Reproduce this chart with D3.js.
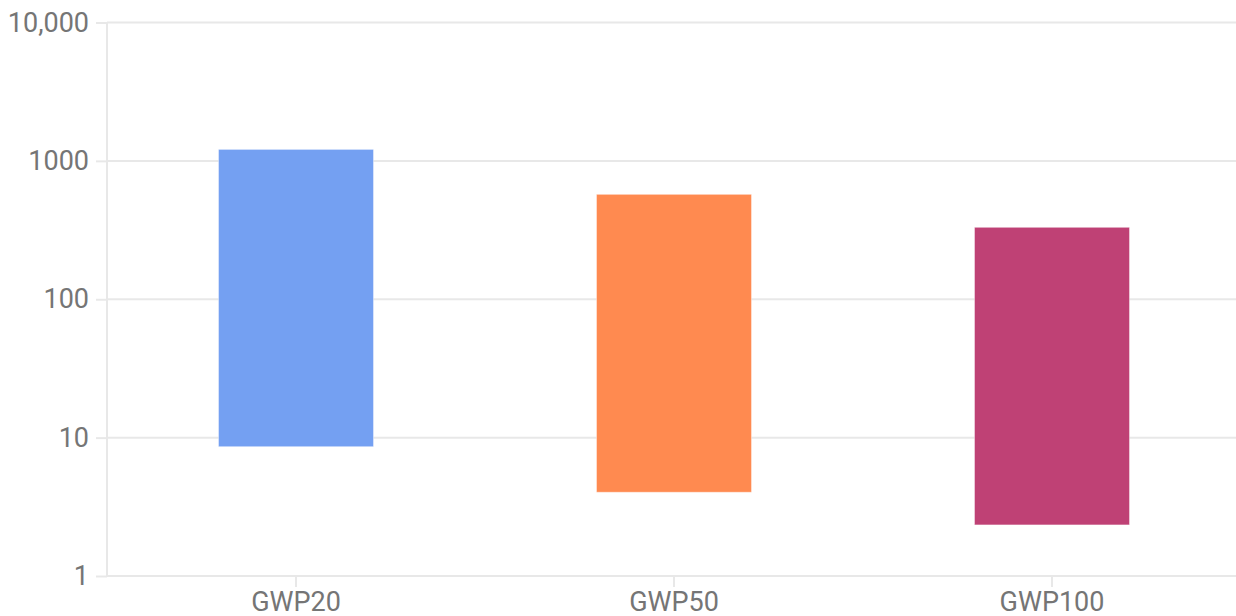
<!DOCTYPE html>
<html>
<head>
<meta charset="utf-8">
<script src="https://cdn.jsdelivr.net/npm/d3@7"></script>
<style>
  body { margin: 0; background: #fff; }
  text { font-family: Roboto, sans-serif; fill: #757575; }
</style>
</head>
<body>
<div id="chart"></div>
<script>
// data
var categories = ["GWP20", "GWP50", "GWP100"];
var lowValues = [8.6, 4.03, 2.34];
var highValues = [1210, 573, 331];
var barColors = ["#74a0f2", "#ff8a50", "#bf4175"];
var yTicks = [1, 10, 100, 1000, 10000];

var width = 1236, height = 616;
var margin = {top: 22.5, right: 0, bottom: 40, left: 107};

var svg = d3.select("#chart")
  .append("svg")
  .attr("width", width)
  .attr("height", height);

var x = d3.scaleBand()
  .domain(categories)
  .range([margin.left, 1241])
  .paddingInner(0.59)
  .paddingOuter(0.295);

var y = d3.scaleLog()
  .domain([1, 10000])
  .range([576, margin.top]);

// gridlines + y labels
var yAxis = svg.append("g")
  .attr("transform", "translate(" + margin.left + ",0)")
  .call(d3.axisLeft(y)
    .tickValues(yTicks)
    .tickSize(11)
    .tickPadding(7)
    .tickFormat(function(d) { return d >= 10000 ? d3.format(",")(d) : d; }));
yAxis.select(".domain").remove();
yAxis.selectAll("line").attr("stroke", "#e8e8e8").attr("stroke-width", 2);
yAxis.selectAll("text").style("font-size", "27px").style("fill", "#757575");

svg.append("g")
  .selectAll("line")
  .data(yTicks)
  .enter()
  .append("line")
  .attr("x1", margin.left)
  .attr("x2", width)
  .attr("y1", function(d) { return y(d); })
  .attr("y2", function(d) { return y(d); })
  .attr("stroke", "#e8e8e8")
  .attr("stroke-width", 2);

// y axis line
svg.append("line")
  .attr("x1", margin.left).attr("x2", margin.left)
  .attr("y1", y(10000)).attr("y2", y(1))
  .attr("stroke", "#e8e8e8")
  .attr("stroke-width", 2);

// x axis
var xAxis = svg.append("g")
  .attr("transform", "translate(0," + y(1) + ")")
  .call(d3.axisBottom(x).tickSize(11).tickPadding(5));
xAxis.select(".domain").remove();
xAxis.selectAll("line").attr("stroke", "#e8e8e8").attr("stroke-width", 2);
xAxis.selectAll("text").style("font-size", "27px").style("fill", "#757575");

// floating bars
svg.append("g")
  .selectAll("rect")
  .data(categories)
  .enter()
  .append("rect")
  .attr("x", function(d) { return x(d); })
  .attr("width", x.bandwidth())
  .attr("y", function(d, i) { return y(highValues[i]); })
  .attr("height", function(d, i) { return y(lowValues[i]) - y(highValues[i]); })
  .attr("fill", function(d, i) { return barColors[i]; })
  .attr("stroke", "#ffffff")
  .attr("stroke-opacity", 0.4)
  .attr("stroke-width", 1);
</script>
</body>
</html>
